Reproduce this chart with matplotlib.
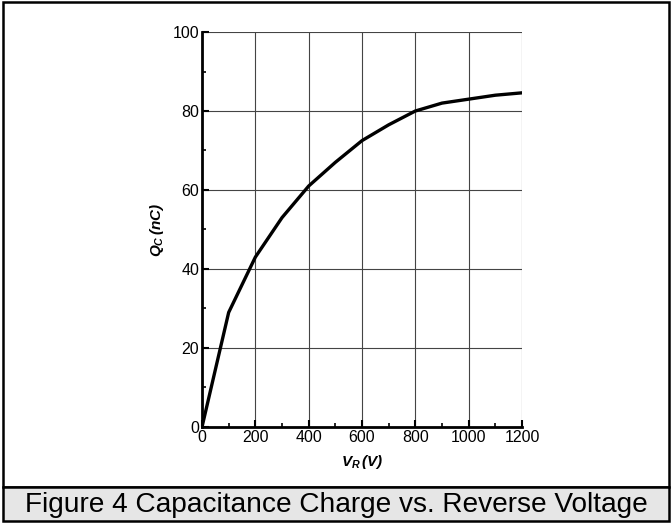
import matplotlib

matplotlib.use("Agg")
import matplotlib.pyplot as plt
from matplotlib.patches import Rectangle
from matplotlib.ticker import MultipleLocator

# reverse voltage (V) and capacitance charge (nC)
vr = [0, 100, 200, 300, 400, 500, 600, 700, 800, 900, 1000, 1100, 1200]
qc = [0, 29, 43, 53, 61, 67, 72.5, 76.5, 80, 82, 83, 84, 84.6]

caption = "Figure 4 Capacitance Charge vs. Reverse Voltage"

plt.rcParams.update(
    {
        "font.family": ["Liberation Sans", "DejaVu Sans"],
        "mathtext.fontset": "custom",
        "mathtext.it": "Liberation Sans:bold:italic",
        "mathtext.rm": "Liberation Sans:bold:italic",
        "mathtext.bf": "Liberation Sans:bold:italic",
    }
)

fig = plt.figure(figsize=(6.72, 5.23), dpi=100)
ax = fig.add_axes([0.3006, 0.1836, 0.4762, 0.7552])

ax.plot(vr, qc, color="black", lw=2.4, solid_joinstyle="miter", zorder=3)

ax.set_xlim(0, 1200)
ax.set_ylim(0, 100)
ax.xaxis.set_major_locator(MultipleLocator(200))
ax.xaxis.set_minor_locator(MultipleLocator(100))
ax.yaxis.set_major_locator(MultipleLocator(20))
ax.yaxis.set_minor_locator(MultipleLocator(10))
ax.grid(True, which="major", color="#444444", lw=0.8)
ax.tick_params(which="major", direction="in", length=5, width=1.5, labelsize=11.5, pad=2)
ax.tick_params(which="minor", direction="in", length=3, width=1.2)

for side in ["top", "right"]:
    ax.spines[side].set_visible(False)
for side in ["left", "bottom"]:
    ax.spines[side].set_linewidth(2)

ax.set_xlabel(r"$V_R\,(V)$", fontsize=11, labelpad=6)
ax.set_ylabel(r"$Q_C\,(nC)$", fontsize=11, labelpad=5)

# outer frame of the figure panel
fig.patches.append(
    Rectangle((0.004, 0.069), 0.992, 0.927, transform=fig.transFigure,
              fill=False, edgecolor="black", lw=1.8)
)
# caption strip
fig.patches.append(
    Rectangle((0.004, 0.004), 0.992, 0.065, transform=fig.transFigure,
              facecolor="#e6e6e6", edgecolor="black", lw=1.8)
)
fig.text(0.5, 0.034, caption, ha="center", va="center", fontsize=20.2)

fig.savefig("out.png", dpi=100)
